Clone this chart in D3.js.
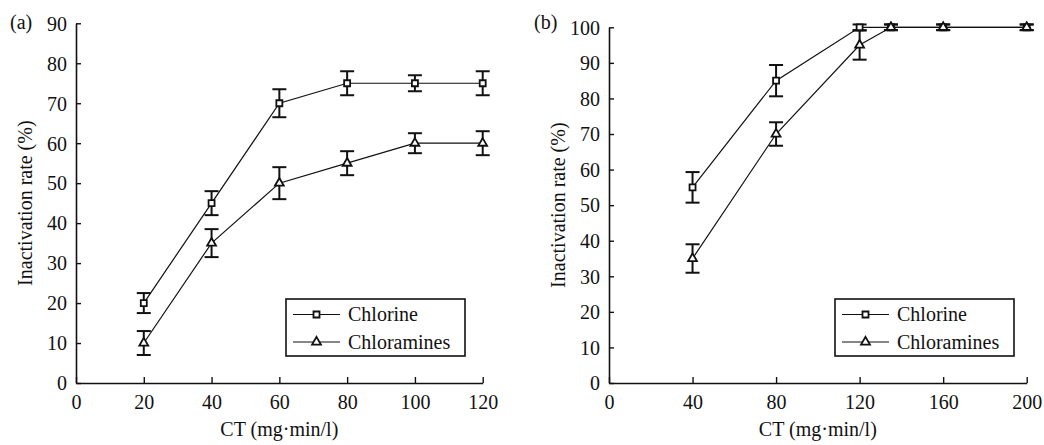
<!DOCTYPE html>
<html>
<head>
<meta charset="utf-8">
<script src="https://cdn.jsdelivr.net/npm/d3@7"></script>
<style>
  body { margin: 0; background: #fff; }
  svg text { font-family: "Times New Roman", Times, "Liberation Serif", "Nimbus Roman", "Noto Serif", "DejaVu Serif", serif !important; fill: #111; }
</style>
</head>
<body>
<div id="app"></div>
<script>
// 数据 (a)
const ctA = [20, 40, 60, 80, 100, 120]
const chlorineA = [20, 45, 70, 75, 75, 75]
const chlorineErrA = [2.5, 3, 3.5, 3, 2, 3]
const chloraminesA = [10, 35, 50, 55, 60, 60]
const chloraminesErrA = [3, 3.5, 4, 3, 2.5, 3]
const xTicksA = [0, 20, 40, 60, 80, 100, 120]
const yTicksA = [0, 10, 20, 30, 40, 50, 60, 70, 80, 90]

// 数据 (b)
const ctB = [40, 80, 120, 135, 160, 200]
const chlorineB = [55, 85, 100, 100, 100, 100]
const chlorineErrB = [4.3, 4.4, 0.8, 0.8, 0.8, 0.8]
const chloraminesB = [35, 70, 95, 100, 100, 100]
const chloraminesErrB = [4, 3.3, 4.1, 0.8, 0.8, 0.8]
const xTicksB = [0, 40, 80, 120, 160, 200]
const yTicksB = [0, 10, 20, 30, 40, 50, 60, 70, 80, 90, 100]

const seriesNames = ['Chlorine', 'Chloramines']
const xTitle = 'CT (mg·min/l)'
const yTitle = 'Inactivation rate (%)'

const svg = d3.select('#app')
              .append('svg')
                .attr('width', 1044)
                .attr('height', 445)

const square = d3.symbol().type(d3.symbolSquare).size(36)
const triangle = d3.symbol().type(d3.symbolTriangle).size(34)

function drawPanel(cfg) {
  const g = svg.append('g')

  const xScale = d3.scaleLinear().domain(cfg.xDomain).range([cfg.left, cfg.right])
  const yScale = d3.scaleLinear().domain(cfg.yDomain).range([cfg.bottom, cfg.top])

  // 坐标轴 (刻度朝内)
  const xAxis = g.append('g')
                  .attr('transform', `translate(0, ${cfg.bottom})`)
                  .call(d3.axisBottom(xScale).tickValues(cfg.xTicks).tickSizeInner(-6).tickSizeOuter(0).tickPadding(12))
  const yAxis = g.append('g')
                  .attr('transform', `translate(${cfg.left}, 0)`)
                  .call(d3.axisLeft(yScale).tickValues(cfg.yTicks).tickSizeInner(-5).tickSizeOuter(0).tickPadding(9))
  g.selectAll('.domain').attr('stroke', '#111').attr('stroke-width', 1.6)
  g.selectAll('.tick line').attr('stroke', '#111').attr('stroke-width', 1.4)
  g.selectAll('.tick text').attr('font-size', 20).attr('fill', '#111')
  xAxis.selectAll('.tick text').attr('dy', '0.71em')
  yAxis.selectAll('.tick text').attr('dy', '0.34em')

  // 标题
  g.append('text')
    .attr('x', (cfg.left + cfg.right) / 2)
    .attr('y', 436)
    .attr('text-anchor', 'middle')
    .attr('font-size', 20)
    .text(xTitle)
  g.append('text')
    .attr('transform', `translate(${cfg.left - 44}, ${(cfg.top + cfg.bottom) / 2}) rotate(-90)`)
    .attr('text-anchor', 'middle')
    .attr('font-size', 20)
    .text(yTitle)
  g.append('text')
    .attr('x', cfg.labelX)
    .attr('y', 29)
    .attr('font-size', 20)
    .text(cfg.label)

  const series = [
    { values: cfg.chlorine, err: cfg.chlorineErr, shape: square },
    { values: cfg.chloramines, err: cfg.chloraminesErr, shape: triangle }
  ]

  const line = d3.line().x(d => xScale(d.x)).y(d => yScale(d.y))

  series.forEach(s => {
    const pts = cfg.ct.map((x, i) => ({ x: x, y: s.values[i], e: s.err[i] }))

    g.append('path')
      .datum(pts)
      .attr('d', line)
      .attr('fill', 'none')
      .attr('stroke', '#111')
      .attr('stroke-width', 1.2)

    // 误差线
    const bars = g.append('g').selectAll('g').data(pts).join('g')
      .attr('stroke', '#111').attr('stroke-width', 2)
    bars.append('line')
      .attr('x1', d => xScale(d.x)).attr('x2', d => xScale(d.x))
      .attr('y1', d => yScale(d.y - d.e)).attr('y2', d => yScale(d.y + d.e))
    bars.append('line')
      .attr('x1', d => xScale(d.x) - 7).attr('x2', d => xScale(d.x) + 7)
      .attr('y1', d => yScale(d.y + d.e)).attr('y2', d => yScale(d.y + d.e))
    bars.append('line')
      .attr('x1', d => xScale(d.x) - 7).attr('x2', d => xScale(d.x) + 7)
      .attr('y1', d => yScale(d.y - d.e)).attr('y2', d => yScale(d.y - d.e))

    g.append('g').selectAll('path').data(pts).join('path')
      .attr('d', s.shape)
      .attr('transform', d => `translate(${xScale(d.x)}, ${yScale(d.y)})`)
      .attr('fill', '#fff')
      .attr('stroke', '#111')
      .attr('stroke-width', 1.8)
  })

  // 图例
  const legend = g.append('g').attr('transform', `translate(${cfg.legendX}, 299)`)
  legend.append('rect')
    .attr('width', 179).attr('height', 57)
    .attr('fill', '#fff').attr('stroke', '#111').attr('stroke-width', 1.6)
  const rows = legend.selectAll('.row').data(seriesNames).join('g')
    .attr('class', 'row')
    .attr('transform', (d, i) => `translate(0, ${15.5 + i * 27.5})`)
  rows.append('line')
    .attr('x1', 7).attr('x2', 54)
    .attr('stroke', '#111').attr('stroke-width', 1.2)
  rows.append('path')
    .attr('d', (d, i) => (i === 0 ? square : triangle)())
    .attr('transform', 'translate(30.5, 0)')
    .attr('fill', '#fff').attr('stroke', '#111').attr('stroke-width', 1.8)
  rows.append('text')
    .attr('x', 62).attr('dy', '0.34em')
    .attr('font-size', 20)
    .text(d => d)
}

drawPanel({
  label: '(a)', labelX: 10,
  left: 76, right: 482.7, top: 23.3, bottom: 383,
  xDomain: [0, 120], yDomain: [0, 90],
  xTicks: xTicksA, yTicks: yTicksA,
  ct: ctA, chlorine: chlorineA, chlorineErr: chlorineErrA,
  chloramines: chloraminesA, chloraminesErr: chloraminesErrA,
  legendX: 286
})

drawPanel({
  label: '(b)', labelX: 534,
  left: 609, right: 1026.7, top: 27.3, bottom: 383,
  xDomain: [0, 200], yDomain: [0, 100],
  xTicks: xTicksB, yTicks: yTicksB,
  ct: ctB, chlorine: chlorineB, chlorineErr: chlorineErrB,
  chloramines: chloraminesB, chloraminesErr: chloraminesErrB,
  legendX: 835
})
</script>
</body>
</html>
